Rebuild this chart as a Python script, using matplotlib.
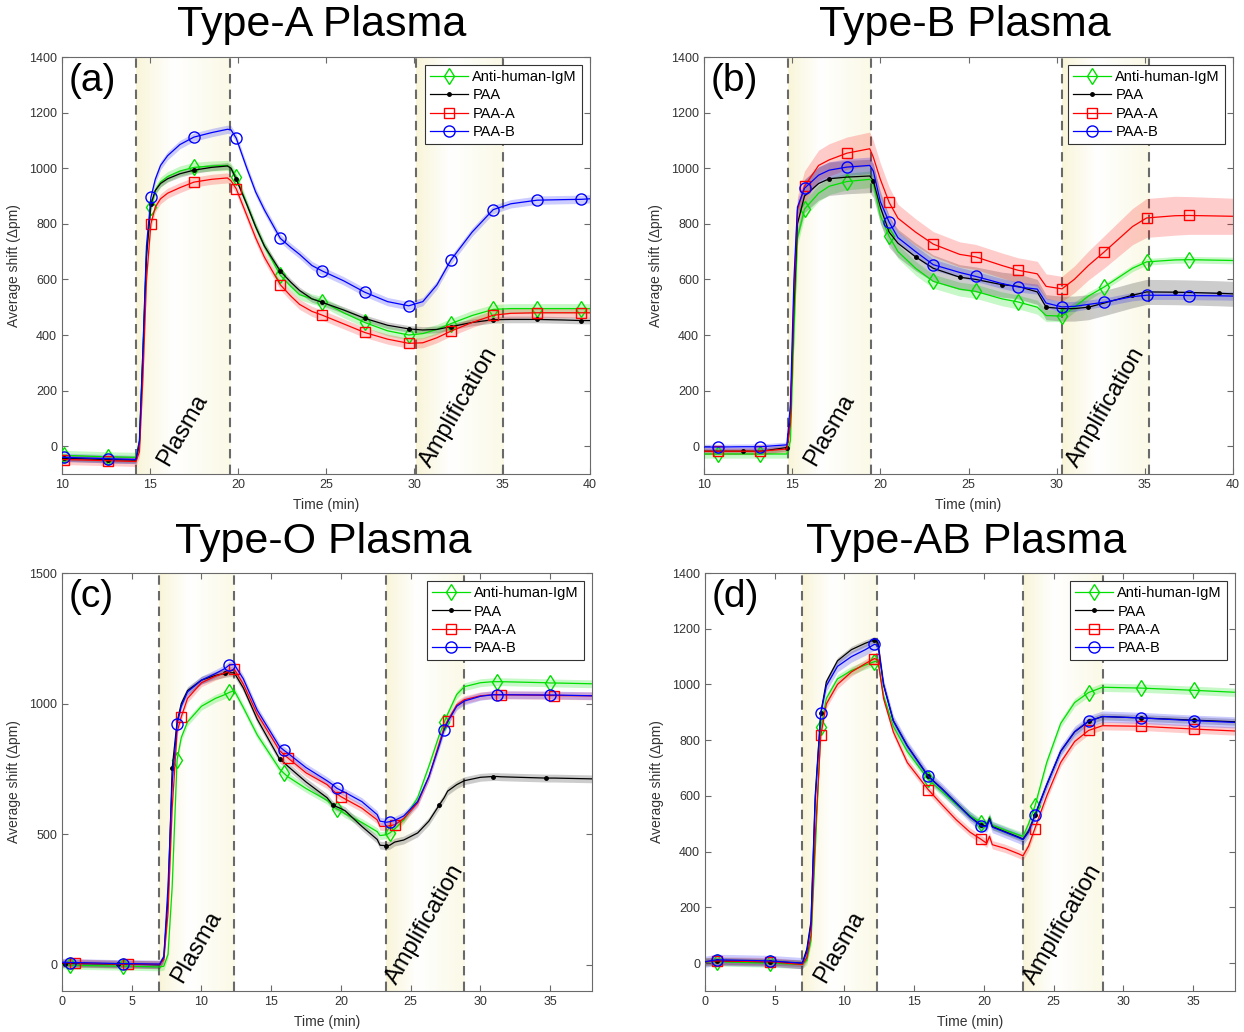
import numpy as np
import matplotlib.pyplot as plt
import matplotlib.transforms as mtransforms
from matplotlib.colors import LinearSegmentedColormap

plt.rcParams['font.family'] = ['Liberation Sans', 'DejaVu Sans']

labels = ['Anti-human-IgM', 'PAA', 'PAA-A', 'PAA-B']

# ---------------- panel (a): Type-A plasma ----------------
t_a = [10.0, 10.1, 12.6, 14.2, 14.4, 14.6, 14.8, 15.05, 15.3, 15.6, 16.0, 16.7, 17.5, 18.5, 19.4,
       19.6, 19.9, 20.5, 21.0, 21.5, 22.4, 23.0, 23.5, 24.2, 24.8, 26.0, 27.2, 28.5, 29.7, 30.5,
       31.3, 32.1, 33.3, 34.5, 35.5, 37.0, 38.5, 39.5, 40.0]
igm_a = [-33, -33, -38, -40, 20, 350, 700, 860, 920, 950, 970, 990, 1003, 1008, 1010,
         1000, 970, 870, 790, 720, 615, 575, 545, 530, 520, 480, 445, 415, 400, 405,
         420, 441, 470, 492, 495, 495, 495, 495, 495]
paa_a = [-43, -43, -48, -50, 10, 330, 680, 870, 920, 945, 962, 980, 993, 1003, 1008,
         1000, 960, 870, 790, 720, 630, 590, 560, 530, 517, 490, 460, 435, 422, 418,
         420, 430, 445, 455, 456, 456, 454, 452, 452]
paaA_a = [-48, -48, -52, -55, -20, 250, 600, 800, 860, 890, 910, 930, 950, 960, 965,
          955, 926, 830, 750, 680, 581, 540, 510, 485, 471, 440, 409, 385, 370, 372,
          390, 414, 445, 471, 478, 480, 480, 480, 480]
paaB_a = [-40, -40, -45, -48, 20, 350, 720, 895, 960, 1010, 1045, 1085, 1112, 1128, 1140,
          1138, 1108, 1000, 915, 850, 748, 715, 690, 650, 630, 595, 554, 520, 505, 520,
          580, 670, 770, 851, 872, 885, 887, 888, 890]
band_a = [18, 12, 18, 15]
marks_a = [[10.1, 12.6, 15.05, 17.5, 19.9, 22.4, 24.8, 27.2, 29.7, 32.1, 34.5, 37.0, 39.5]] * 4
regions_a = [(14.2, 19.55), (30.1, 35.05)]

# ---------------- panel (b): Type-B plasma ----------------
t_b = [10.0, 10.8, 12.2, 13.2, 14.7, 14.9, 15.1, 15.3, 15.7, 16.5, 17.1, 18.1, 19.4, 19.6, 20.0,
       20.5, 21.0, 22.0, 23.0, 24.5, 25.4, 26.9, 27.8, 28.9, 29.4, 30.3, 31.0, 31.8, 32.7, 34.3,
       35.1, 36.7, 37.5, 39.2, 40.0]
igm_b = [-28, -28, -28, -28, -28, 20, 400, 750, 853, 910, 935, 952, 960, 945, 830,
         755, 700, 640, 593, 565, 557, 530, 519, 500, 470, 468, 500, 540, 573, 640,
         663, 670, 671, 669, 668]
paa_b = [-18, -18, -18, -18, -5, 100, 500, 800, 900, 945, 962, 968, 972, 955, 860,
         770, 730, 681, 640, 608, 600, 581, 575, 555, 500, 495, 495, 500, 515, 543,
         555, 554, 553, 550, 548]
paaA_b = [-18, -18, -18, -18, -10, 80, 550, 850, 935, 1010, 1030, 1054, 1070, 1040, 960,
          877, 820, 770, 727, 690, 681, 650, 633, 620, 575, 566, 600, 650, 699, 790,
          821, 829, 830, 828, 827]
paaB_b = [-3, -3, -2, -2, 5, 150, 600, 860, 928, 975, 993, 1004, 1010, 990, 880,
          806, 750, 700, 653, 625, 611, 585, 573, 565, 515, 501, 503, 510, 518, 538,
          543, 543, 542, 541, 540]
band_b = [
    [15, 15, 15, 15, 15, 20, 25, 28, 30, 30, 30, 30, 30, 30, 28, 25, 25, 25, 25, 25,
     25, 25, 25, 25, 22, 20, 18, 15, 12, 12, 12, 12, 12, 12, 12],
    [12, 12, 12, 12, 12, 30, 45, 55, 60, 60, 60, 60, 60, 60, 58, 55, 50, 50, 48, 45,
     45, 45, 45, 45, 45, 45, 45, 45, 45, 45, 45, 45, 45, 45, 45],
    [12, 12, 12, 12, 12, 25, 40, 50, 55, 55, 58, 58, 60, 60, 58, 55, 50, 48, 45, 45,
     45, 45, 45, 45, 45, 45, 48, 52, 58, 65, 70, 70, 68, 66, 65],
    [10, 10, 10, 10, 10, 20, 25, 28, 30, 30, 30, 30, 30, 30, 28, 25, 22, 20, 20, 18,
     18, 18, 18, 18, 18, 18, 18, 16, 15, 15, 15, 15, 15, 15, 15],
]
marks_ab = [10.8, 13.2, 15.7, 18.1, 20.5, 23.0, 25.4, 27.8, 30.3, 32.7, 35.1, 37.5]
marks_b_paa = [12.2, 14.7, 17.1, 19.6, 22.0, 24.5, 26.9, 29.4, 31.8, 34.3, 36.7, 39.2]
marks_b = [marks_ab, marks_b_paa, marks_ab, marks_ab]
regions_b = [(14.75, 19.45), (30.3, 35.25)]

# ---------------- panel (c): Type-O plasma ----------------
t_c = [0.0, 0.2, 0.6, 0.9, 4.05, 4.4, 4.7, 7.0, 7.3, 7.6, 7.9, 8.25, 8.55, 9.0, 10.0, 11.0,
       11.7, 12.0, 12.35, 13.0, 14.0, 15.6, 15.9, 16.2, 17.5, 19.0, 19.4, 19.7, 20.0, 20.3,
       21.5, 22.6, 22.8, 23.25, 23.5, 23.85, 24.5, 25.5, 26.3, 27.05, 27.4, 27.65, 28.3, 28.85,
       30.0, 30.9, 31.2, 31.45, 34.7, 35.0, 35.3, 38.0]
igm_c = [0, 0, -2, -2, -5, -5, -5, -8, -5, 40, 300, 785, 870, 930, 990, 1020,
         1035, 1043, 1050, 985, 880, 750, 734, 720, 675, 630, 610, 597, 590, 578,
         545, 510, 495, 498, 505, 520, 555, 640, 760, 880, 928, 960, 1035, 1065,
         1080, 1084, 1084, 1084, 1080, 1079, 1079, 1076]
paa_c = [5, 5, 5, 5, 3, 3, 3, 0, 30, 250, 753, 930, 1000, 1050, 1090, 1108,
         1116, 1118, 1118, 1060, 940, 788, 775, 760, 700, 640, 613, 605, 598, 590,
         530, 480, 458, 456, 458, 470, 478, 505, 550, 612, 640, 665, 690, 705,
         718, 721, 721, 720, 715, 715, 715, 712]
paaA_c = [8, 8, 8, 8, 3, 3, 3, 2, 20, 200, 600, 890, 950, 1020, 1080, 1105,
          1118, 1125, 1132, 1075, 960, 820, 805, 792, 735, 690, 670, 655, 644, 635,
          600, 555, 530, 530, 533, 536, 560, 620, 720, 850, 910, 935, 995, 1015,
          1030, 1034, 1034, 1034, 1032, 1031, 1031, 1030]
paaB_c = [10, 10, 9, 9, 5, 5, 5, 3, 30, 300, 700, 922, 990, 1045, 1090, 1115,
          1135, 1148, 1150, 1095, 975, 835, 822, 810, 755, 705, 690, 676, 668, 660,
          625, 575, 550, 546, 548, 553, 570, 625, 720, 840, 900, 930, 990, 1010,
          1028, 1034, 1034, 1034, 1033, 1033, 1033, 1030]
band_c = [15, 15, 15, 15]
marks_c = [
    [0.6, 4.4, 8.25, 12.0, 15.9, 19.7, 23.5, 27.4, 31.2, 35.0],
    [0.2, 4.05, 7.9, 11.7, 15.6, 19.4, 23.25, 27.05, 30.9, 34.7],
    [0.9, 4.7, 8.55, 12.35, 16.2, 20.0, 23.85, 27.65, 31.45, 35.3],
    [0.6, 4.4, 8.25, 12.0, 15.9, 19.7, 23.5, 27.4, 31.2, 35.0],
]
regions_c = [(6.98, 12.36), (23.24, 28.84)]

# ---------------- panel (d): Type-AB plasma ----------------
t_d = [0.0, 0.85, 4.65, 6.98, 7.3, 7.6, 7.9, 8.3, 8.7, 9.5, 10.5, 11.5, 12.15, 12.4, 12.8,
       13.5, 14.5, 16.0, 17.0, 18.0, 19.0, 19.8, 20.2, 20.4, 20.6, 21.5, 22.5, 22.8, 23.2,
       23.65, 24.5, 25.5, 26.5, 27.5, 28.5, 31.25, 35.05, 38.0]
igm_d = [5, 5, 0, -5, 10, 80, 400, 847, 950, 1020, 1050, 1070, 1082, 1085, 960,
         850, 760, 660, 615, 570, 530, 504, 500, 525, 495, 478, 460, 455, 500,
         563, 720, 860, 935, 971, 990, 987, 979, 972]
paa_d = [5, 8, 5, 0, 50, 150, 600, 897, 1010, 1085, 1125, 1148, 1160, 1150, 1000,
         870, 780, 671, 625, 575, 525, 495, 492, 520, 490, 472, 452, 445, 475,
         530, 640, 760, 830, 868, 885, 880, 872, 866]
paaA_d = [5, 8, 5, -5, 20, 100, 450, 817, 930, 1000, 1045, 1075, 1093, 1088, 950,
          830, 720, 623, 568, 515, 470, 444, 430, 455, 425, 412, 392, 385, 420,
          483, 600, 720, 795, 835, 852, 850, 840, 833]
paaB_d = [5, 12, 8, 0, 40, 140, 580, 897, 995, 1065, 1100, 1125, 1144, 1140, 1000,
          870, 780, 671, 625, 575, 525, 492, 490, 515, 488, 470, 450, 443, 470,
          530, 640, 760, 830, 868, 885, 880, 870, 864]
band_d = [15, 12, 15, 20]
marks_d = [[0.85, 4.65, 8.3, 12.15, 16.0, 19.8, 23.65, 27.5, 31.25, 35.05]] * 4
regions_d = [(6.98, 12.36), (22.8, 28.53)]

# ---------------- style ----------------
colors = ['#00e000', '#000000', '#ff0000', '#0000ff']
markers = ['d', '.', 's', 'o']
msizes = [8, 5, 6.5, 8]
band_alpha = [0.22, 0.2, 0.2, 0.2]
grey = '#6a6a6a'
shade = LinearSegmentedColormap.from_list(
    'shade', [(0.0, '#f9f5d9'), (0.4, '#ffffff'), (1.0, '#fbf9e6')])


def draw_panel(ax, t, series, bands, marks, regions, xlim, ylim, xticks, yticks, tag):
    t = np.asarray(t, dtype=float)
    for x0, x1 in regions:
        ax.imshow(np.linspace(0, 1, 256)[None, :], cmap=shade, aspect='auto',
                  extent=[x0, x1, ylim[0], ylim[1]], zorder=0, interpolation='bilinear')
        for xv in (x0, x1):
            ax.axvline(xv, color=grey, lw=1.5, dashes=(4.5, 3), zorder=1)
    for i, v in enumerate(series):
        v = np.asarray(v, dtype=float)
        b = np.asarray(bands[i], dtype=float)
        ax.fill_between(t, v - b, v + b, color=colors[i], alpha=band_alpha[i], lw=0, zorder=2)
        idx = [int(np.argmin(np.abs(t - m))) for m in marks[i]]
        ax.plot(t, v, color=colors[i], lw=0.9, marker=markers[i], markevery=idx,
                ms=msizes[i], mfc='none' if markers[i] != '.' else colors[i],
                mew=1.0, label=labels[i], zorder=3)
    ax.set_xlim(*xlim)
    ax.set_ylim(*ylim)
    ax.set_xticks(xticks)
    ax.set_yticks(yticks)
    ax.tick_params(direction='in', top=True, right=True, length=4, width=0.8,
                   color=grey, labelsize=9, labelcolor='#333333')
    for s in ax.spines.values():
        s.set_color(grey)
        s.set_linewidth(0.8)
    ax.set_xlabel('Time (min)', fontsize=10, color='#333333', labelpad=5)
    ax.set_ylabel('Average shift (\u0394pm)', fontsize=10, color='#333333', labelpad=6)
    ax.text(0.012, 0.985, tag, transform=ax.transAxes, fontsize=28, va='top', ha='left')
    tr = mtransforms.blended_transform_factory(ax.transData, ax.transAxes)
    ax.text(sum(regions[0]) / 2, 0.105, 'Plasma', transform=tr, rotation=60,
            ha='center', va='center', fontsize=17, zorder=4)
    ax.text(sum(regions[1]) / 2, 0.16, 'Amplification', transform=tr, rotation=60,
            ha='center', va='center', fontsize=17, zorder=4)
    leg = ax.legend(loc='upper right', fontsize=10.5, numpoints=1, handlelength=2.6,
                    handletextpad=0.3, labelspacing=0.3, borderaxespad=0.55,
                    fancybox=False, framealpha=1, borderpad=0.35)
    leg.get_frame().set_edgecolor('#333333')
    leg.get_frame().set_linewidth(0.8)
    leg.set_zorder(5)


fig = plt.figure(figsize=(12.44, 10.32), dpi=100)
W, H = 1244, 1032


def add_axes(l, r, top, bottom):
    return fig.add_axes([l / W, 1 - bottom / H, (r - l) / W, (bottom - top) / H])


ax_a = add_axes(62, 590, 57, 474)
ax_b = add_axes(704, 1233, 57, 474)
ax_c = add_axes(62, 592, 573, 991)
ax_d = add_axes(705, 1235, 573, 991)

draw_panel(ax_a, t_a, [igm_a, paa_a, paaA_a, paaB_a], band_a, marks_a, regions_a,
           (10, 40), (-100, 1400), range(10, 41, 5), range(0, 1401, 200), '(a)')
draw_panel(ax_b, t_b, [igm_b, paa_b, paaA_b, paaB_b], band_b, marks_b, regions_b,
           (10, 40), (-100, 1400), range(10, 41, 5), range(0, 1401, 200), '(b)')
draw_panel(ax_c, t_c, [igm_c, paa_c, paaA_c, paaB_c], band_c, marks_c, regions_c,
           (0, 38), (-100, 1500), range(0, 36, 5), range(0, 1501, 500), '(c)')
draw_panel(ax_d, t_d, [igm_d, paa_d, paaA_d, paaB_d], band_d, marks_d, regions_d,
           (0, 38), (-100, 1400), range(0, 36, 5), range(0, 1401, 200), '(d)')

titles = ['Type-A Plasma', 'Type-B Plasma', 'Type-O Plasma', 'Type-AB Plasma']
for ax, title, ty in zip([ax_a, ax_b, ax_c, ax_d], titles, [25, 25, 542, 542]):
    pos = ax.get_position()
    fig.text(pos.x0 + pos.width / 2 - 4 / W, 1 - ty / H, title, fontsize=31,
             ha='center', va='center')

fig.savefig('out.png', dpi=100)
